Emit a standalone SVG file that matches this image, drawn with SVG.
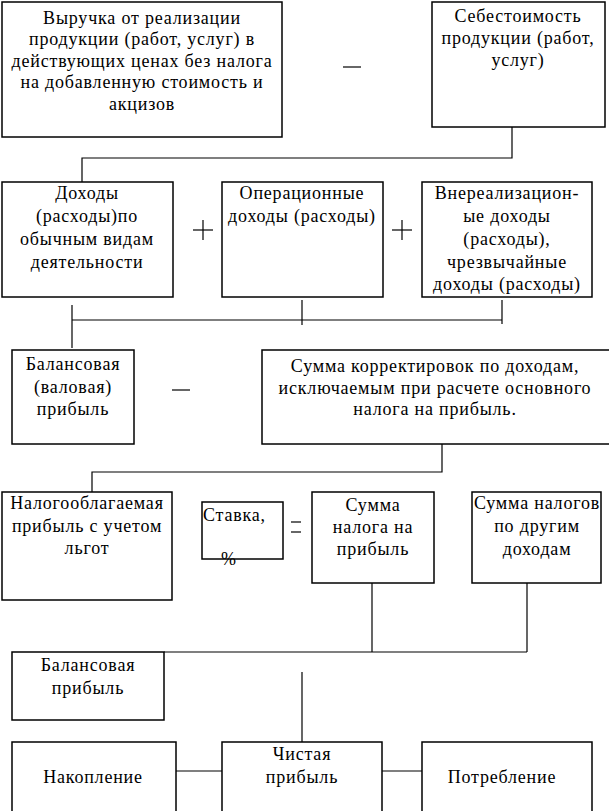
<svg xmlns="http://www.w3.org/2000/svg" width="609" height="811" viewBox="0 0 609 811">
<style>
rect.b{fill:#fff;stroke:#000;stroke-width:1.5}
text{font-family:"Liberation Serif","Times New Roman",serif;font-size:18px;letter-spacing:0.8px;fill:#000;text-anchor:middle}
.c line,.c polyline{stroke:#000;stroke-width:1.2;fill:none}
</style>
<rect width="609" height="811" fill="#fff"/>
<g class="c" id="connectors">
<polyline points="512,127 512,158 82,158 82,182"/>
<line x1="72" y1="305" x2="72" y2="348"/>
<line x1="72" y1="320" x2="502" y2="320"/>
<line x1="302" y1="300" x2="302" y2="325"/>
<line x1="502" y1="300" x2="502" y2="324"/>
<polyline points="442,444 442,472 92,472 92,492"/>
<line x1="372" y1="583" x2="372" y2="652"/>
<line x1="527" y1="583" x2="527" y2="652"/>
<line x1="164" y1="652" x2="527" y2="652"/>
<line x1="302" y1="672" x2="302" y2="742"/>
<line x1="172" y1="771" x2="222" y2="771"/>
<line x1="382" y1="771" x2="422" y2="771"/>
<line x1="343" y1="67" x2="361" y2="67"/>
<line x1="193" y1="230" x2="213" y2="230"/><line x1="203" y1="220" x2="203" y2="240"/>
<line x1="392" y1="230" x2="412" y2="230"/><line x1="402" y1="220" x2="402" y2="240"/>
<line x1="172" y1="390" x2="190" y2="390"/>
<line x1="291" y1="522" x2="301" y2="522"/><line x1="291" y1="532" x2="301" y2="532"/>
</g>
<g id="n1"><rect class="b" x="2" y="2" width="280" height="135"/>
<text x="142" y="24">Выручка от реализации</text>
<text x="142" y="45">продукции (работ, услуг) в</text>
<text x="142" y="67">действующих ценах без налога</text>
<text x="142" y="88">на добавленную стоимость и</text>
<text x="142" y="110">акцизов</text></g>
<g id="n2"><rect class="b" x="432" y="2" width="173" height="125"/>
<text x="518" y="22">Себестоимость</text>
<text x="518" y="44">продукции (работ,</text>
<text x="518" y="66">услуг)</text></g>
<g id="n3"><rect class="b" x="2" y="182" width="171" height="115"/>
<text x="87" y="199">Доходы</text>
<text x="87" y="222">(расходы)по</text>
<text x="87" y="245">обычным видам</text>
<text x="87" y="268">деятельности</text></g>
<g id="n4"><rect class="b" x="222" y="182" width="161" height="115"/>
<text x="302" y="199">Операционные</text>
<text x="302" y="222">доходы (расходы)</text></g>
<g id="n5"><rect class="b" x="422" y="182" width="170" height="115"/>
<text x="507" y="199">Внереализацион-</text>
<text x="507" y="222">ые доходы</text>
<text x="507" y="245">(расходы),</text>
<text x="507" y="268">чрезвычайные</text>
<text x="507" y="290">доходы (расходы)</text></g>
<g id="n6"><rect class="b" x="12" y="350" width="122" height="94"/>
<text x="73" y="370">Балансовая</text>
<text x="73" y="393">(валовая)</text>
<text x="73" y="415">прибыль</text></g>
<g id="n7"><rect class="b" x="262" y="350" width="350" height="94"/>
<text x="435" y="372">Сумма корректировок по доходам,</text>
<text x="435" y="394">исключаемым при расчете основного</text>
<text x="435" y="415">налога на прибыль.</text></g>
<g id="n8"><rect class="b" x="2" y="492" width="170" height="108"/>
<text x="87" y="509">Налогооблагаемая</text>
<text x="87" y="532">прибыль с учетом</text>
<text x="87" y="554">льгот</text></g>
<g id="n9"><rect class="b" x="202" y="502" width="81" height="57"/>
<text x="203" y="521" style="text-anchor:start">Ставка,</text>
<text x="229" y="565">%</text></g>
<g id="n10"><rect class="b" x="312" y="492" width="122" height="91"/>
<text x="373" y="511">Сумма</text>
<text x="373" y="533">налога на</text>
<text x="373" y="555">прибыль</text></g>
<g id="n11"><rect class="b" x="472" y="492" width="129" height="91"/>
<text x="537" y="509">Сумма налогов</text>
<text x="537" y="532">по другим</text>
<text x="537" y="555">доходам</text></g>
<g id="n12"><rect class="b" x="12" y="652" width="152" height="68"/>
<text x="88" y="671">Балансовая</text>
<text x="88" y="694">прибыль</text></g>
<g id="n13"><rect class="b" x="12" y="742" width="164" height="75"/>
<text x="93" y="783">Накопление</text></g>
<g id="n14"><rect class="b" x="222" y="742" width="160" height="75"/>
<text x="302" y="760">Чистая</text>
<text x="302" y="783">прибыль</text></g>
<g id="n15"><rect class="b" x="422" y="742" width="170" height="75"/>
<text x="502" y="783">Потребление</text></g>
</svg>
